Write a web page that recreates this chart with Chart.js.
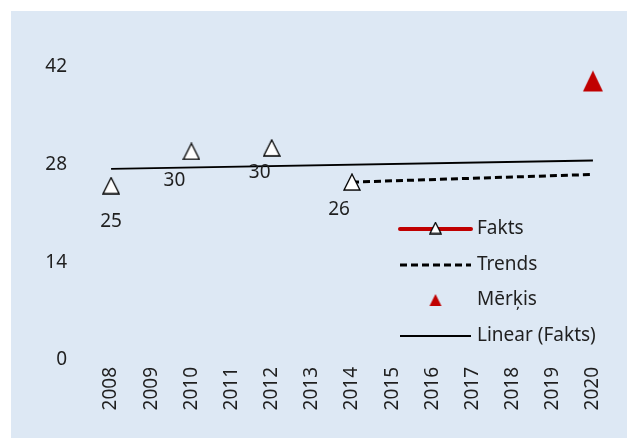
<!DOCTYPE html>
<html>
<head>
<meta charset="utf-8">
<script src="https://cdn.jsdelivr.net/npm/chart.js@4/dist/chart.umd.min.js"></script>
<style>
  html, body { margin: 0; padding: 0; background: #ffffff; }
  #panel {
    position: absolute; left: 11px; top: 11px;
    width: 616px; height: 427px;
    background: #dde8f4;
  }
  #panel canvas { display: block; }
</style>
</head>
<body>
<div id="panel"><canvas id="chart" width="616" height="427"></canvas></div>
<script>
// chart data
const years = ['2008', '2009', '2010', '2011', '2012', '2013', '2014', '2015', '2016', '2017', '2018', '2019', '2020'];
const fakts = [25, null, 29.9, null, 30.4, null, 25.5, null, null, null, null, null, null];
const faktsLabels = ['25', null, '30', null, '30', null, '26', null, null, null, null, null, null];
const trends = [null, null, null, null, null, null, 25.5, null, null, null, null, null, 26.6];
const merkis = [null, null, null, null, null, null, null, null, null, null, null, null, 40];
const linearFakts = [27.4, null, null, null, null, null, null, null, null, null, null, null, 28.6];
const yTicks = [0, 14, 28, 42];

const FONT = '"Noto Sans", "Open Sans", sans-serif';
const TEXT = '#1f1f1f';
const RED = '#c00000';

function triangleImage(w, h, fill, stroke) {
    const c = document.createElement('canvas');
    c.width = w + 2;
    c.height = h + 2;
    const g = c.getContext('2d');
    g.beginPath();
    g.moveTo(c.width / 2, 1);
    g.lineTo(w + 1, h + 1);
    g.lineTo(1, h + 1);
    g.closePath();
    g.fillStyle = fill;
    g.fill();
    if (stroke) {
        g.lineWidth = 1.3;
        g.strokeStyle = stroke;
        g.stroke();
    }
    return c;
}

const whiteTri = triangleImage(16, 16, '#ffffff', '#000000');
const smallWhiteTri = triangleImage(11, 11, '#ffffff', '#000000');
const redTri = triangleImage(20, 21, RED, null);
const smallRedTri = triangleImage(12, 12, RED, null);

// per-label offsets (dx, dy) from the marker, in px
const labelOffsets = [[0, 36], null, [-17, 29], null, [-12, 25], null, [-13, 27]];

const faktsLabelPlugin = {
    id: 'faktsLabels',
    afterDatasetsDraw(chart) {
        const { ctx } = chart;
        const meta = chart.getDatasetMeta(0);
        ctx.save();
        ctx.font = '19px ' + FONT;
        ctx.fillStyle = TEXT;
        ctx.textAlign = 'center';
        ctx.textBaseline = 'middle';
        meta.data.forEach((pt, i) => {
            const txt = faktsLabels[i];
            if (txt === null || !labelOffsets[i]) return;
            ctx.fillText(txt, pt.x + labelOffsets[i][0], pt.y + labelOffsets[i][1]);
        });
        ctx.restore();
    }
};

const legendPlugin = {
    id: 'innerLegend',
    afterDraw(chart) {
        const { ctx } = chart;
        const x0 = 389, x1 = 460, tx = 466;
        const rows = [218, 254, 289, 325];
        ctx.save();
        ctx.font = '19px ' + FONT;
        ctx.fillStyle = TEXT;
        ctx.textBaseline = 'middle';
        ctx.textAlign = 'left';

        // Fakts
        ctx.strokeStyle = RED;
        ctx.lineWidth = 4;
        ctx.lineCap = 'round';
        ctx.beginPath();
        ctx.moveTo(x0, rows[0]); ctx.lineTo(x1, rows[0]);
        ctx.stroke();
        ctx.drawImage(smallWhiteTri, (x0 + x1) / 2 - smallWhiteTri.width / 2, rows[0] - smallWhiteTri.height / 2 - 1);
        ctx.fillText('Fakts', tx, rows[0]);

        // Trends
        ctx.strokeStyle = '#000000';
        ctx.lineWidth = 3;
        ctx.lineCap = 'butt';
        ctx.setLineDash([7, 4]);
        ctx.beginPath();
        ctx.moveTo(x0, rows[1]); ctx.lineTo(x1, rows[1]);
        ctx.stroke();
        ctx.setLineDash([]);
        ctx.fillText('Trends', tx, rows[1]);

        // Mērķis
        ctx.drawImage(smallRedTri, (x0 + x1) / 2 - smallRedTri.width / 2, rows[2] - smallRedTri.height / 2);
        ctx.fillText('Mērķis', tx, rows[2]);

        // Linear (Fakts)
        ctx.lineWidth = 1.8;
        ctx.beginPath();
        ctx.moveTo(x0, rows[3]); ctx.lineTo(x1, rows[3]);
        ctx.stroke();
        ctx.fillText('Linear (Fakts)', tx, rows[3]);
        ctx.restore();
    }
};

new Chart(document.getElementById('chart'), {
    type: 'line',
    data: {
        labels: years,
        datasets: [
            {
                label: 'Fakts',
                data: fakts,
                showLine: false,
                borderColor: RED,
                pointStyle: whiteTri,
                order: 0
            },
            {
                label: 'Trends',
                data: trends,
                borderColor: '#000000',
                borderWidth: 3,
                borderDash: [7, 4],
                spanGaps: true,
                pointRadius: 0,
                order: 2
            },
            {
                label: 'Mērķis',
                data: merkis,
                showLine: false,
                pointStyle: redTri,
                order: 1
            },
            {
                label: 'Linear (Fakts)',
                data: linearFakts,
                borderColor: '#000000',
                borderWidth: 1.8,
                spanGaps: true,
                pointRadius: 0,
                order: 3
            }
        ]
    },
    options: {
        responsive: false,
        animation: false,
        events: [],
        layout: { padding: { top: 56, right: 14, left: 0, bottom: 0 } },
        plugins: {
            legend: { display: false },
            tooltip: { enabled: false }
        },
        scales: {
            x: {
                offset: true,
                grid: { display: false, drawTicks: false },
                border: { display: false },
                ticks: {
                    color: TEXT,
                    font: { family: FONT, size: 19 },
                    minRotation: 90,
                    maxRotation: 90,
                    autoSkip: false,
                    padding: 7
                },
                afterFit(scale) { scale.height = 78; }
            },
            y: {
                min: 0,
                max: 42,
                grid: { display: false, drawTicks: false },
                border: { display: false },
                afterBuildTicks(scale) { scale.ticks = yTicks.map(v => ({ value: v })); },
                ticks: {
                    color: TEXT,
                    font: { family: FONT, size: 19 },
                    padding: 24
                },
                afterFit(scale) { scale.width = 80; }
            }
        }
    },
    plugins: [faktsLabelPlugin, legendPlugin]
});
</script>
</body>
</html>
